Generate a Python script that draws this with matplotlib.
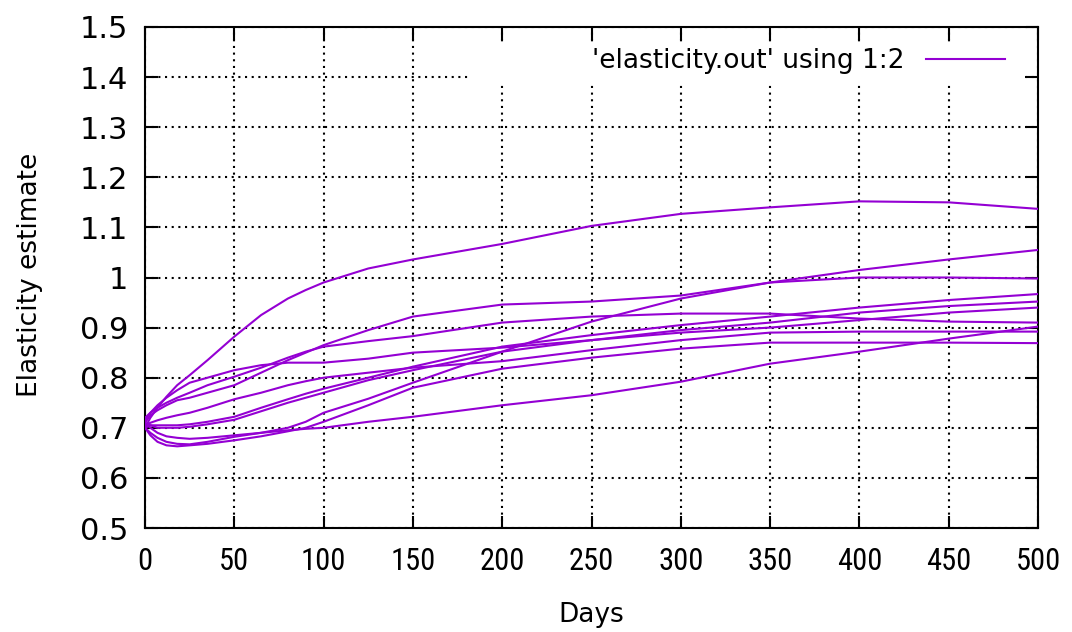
import matplotlib
matplotlib.use("Agg")
import matplotlib.pyplot as plt
from matplotlib.patches import Rectangle
from matplotlib import font_manager

days = [0, 3, 7, 12, 18, 25, 35, 50, 65, 80, 90, 100, 125, 150, 200, 250, 300, 350, 400, 450, 500]

run_a = [0.70, 0.72, 0.74, 0.762, 0.785, 0.805, 0.835, 0.882, 0.925, 0.958, 0.975, 0.99, 1.018, 1.036, 1.067, 1.103, 1.127, 1.14, 1.152, 1.15, 1.137]
run_b = [0.71, 0.70, 0.69, 0.683, 0.68, 0.678, 0.68, 0.685, 0.69, 0.70, 0.712, 0.73, 0.758, 0.79, 0.852, 0.912, 0.958, 0.99, 1.015, 1.036, 1.055]
run_c = [0.71, 0.725, 0.735, 0.745, 0.755, 0.76, 0.77, 0.785, 0.81, 0.835, 0.85, 0.865, 0.895, 0.922, 0.946, 0.952, 0.964, 0.99, 1.0, 1.0, 0.998]
run_d = [0.72, 0.73, 0.74, 0.75, 0.76, 0.77, 0.785, 0.802, 0.82, 0.84, 0.852, 0.862, 0.873, 0.883, 0.91, 0.922, 0.928, 0.928, 0.918, 0.912, 0.91]
run_e = [0.715, 0.73, 0.745, 0.76, 0.775, 0.79, 0.80, 0.815, 0.825, 0.83, 0.83, 0.83, 0.838, 0.85, 0.86, 0.875, 0.89, 0.90, 0.915, 0.93, 0.94]
run_f = [0.705, 0.71, 0.715, 0.72, 0.725, 0.73, 0.74, 0.757, 0.77, 0.785, 0.793, 0.80, 0.81, 0.82, 0.833, 0.855, 0.875, 0.89, 0.892, 0.892, 0.892]
run_g = [0.70, 0.705, 0.705, 0.705, 0.705, 0.707, 0.712, 0.722, 0.74, 0.757, 0.768, 0.778, 0.80, 0.822, 0.862, 0.885, 0.905, 0.922, 0.94, 0.955, 0.967]
run_h = [0.71, 0.705, 0.70, 0.70, 0.70, 0.702, 0.707, 0.716, 0.733, 0.75, 0.76, 0.77, 0.795, 0.815, 0.852, 0.875, 0.895, 0.91, 0.93, 0.943, 0.952]
run_i = [0.70, 0.69, 0.68, 0.672, 0.668, 0.667, 0.672, 0.682, 0.69, 0.695, 0.698, 0.70, 0.712, 0.722, 0.745, 0.765, 0.792, 0.828, 0.852, 0.878, 0.902]
run_j = [0.70, 0.685, 0.672, 0.665, 0.663, 0.665, 0.668, 0.675, 0.683, 0.693, 0.70, 0.712, 0.745, 0.78, 0.818, 0.84, 0.858, 0.87, 0.87, 0.87, 0.869]

runs = [run_a, run_b, run_c, run_d, run_e, run_f, run_g, run_h, run_i, run_j]

x_ticks = [0, 50, 100, 150, 200, 250, 300, 350, 400, 450, 500]
y_ticks = [0.5, 0.6, 0.7, 0.8, 0.9, 1.0, 1.1, 1.2, 1.3, 1.4, 1.5]
y_tick_labels = ["0.5", "0.6", "0.7", "0.8", "0.9", "1", "1.1", "1.2", "1.3", "1.4", "1.5"]
legend_label = "'elasticity.out' using 1:2"

color = "#9400D3"

installed = {f.name for f in font_manager.fontManager.ttflist}
narrow = [n for n in ["Liberation Sans Narrow", "DejaVu Sans Condensed", "Roboto Condensed"] if n in installed]
narrow_family = narrow + ["DejaVu Sans"]

fig = plt.figure(figsize=(10.72, 6.32), dpi=100)
ax = fig.add_axes([145 / 1072, 1 - 528 / 632, (1038 - 145) / 1072, (528 - 27) / 632])

for i, r in enumerate(runs):
    ax.plot(days, r, color=color, lw=1.5, zorder=3,
            label=legend_label if i == 0 else None)

ax.set_xlim(0, 500)
ax.set_ylim(0.5, 1.5)
ax.set_xticks(x_ticks)
ax.set_yticks(y_ticks)
ax.set_yticklabels(y_tick_labels)
ax.set_axisbelow(True)
ax.grid(True, color="black", linestyle=(0, (1, 2.2)), linewidth=1.5)

ax.tick_params(axis="both", direction="in", length=9, width=1.5,
               top=True, right=True, colors="black")
ax.tick_params(axis="y", pad=12, labelsize=22)
ax.tick_params(axis="x", pad=14, labelsize=22)
for lab in ax.get_xticklabels():
    lab.set_family(narrow_family)
for s in ax.spines.values():
    s.set_linewidth(1.5)
    s.set_color("black")

fig.text(30 / 1072, 1 - 275 / 632, "Elasticity estimate", rotation=90,
         ha="center", va="center", fontsize=19)
fig.text(591 / 1072, 1 - 615 / 632, "Days", ha="center", va="center", fontsize=19)

# opaque key area (gnuplot style)
ax.add_patch(Rectangle(((470 - 145) / 893, (528 - 84) / 501),
                       (1025 - 470) / 893, (84 - 42) / 501,
                       transform=ax.transAxes, facecolor="white",
                       edgecolor="none", zorder=1))

ax.legend(loc="center right", bbox_to_anchor=((1005 - 145) / 893, (528 - 61) / 501),
          frameon=False, markerfirst=False, fontsize=19, handlelength=3.0,
          handletextpad=0.8, borderpad=0, borderaxespad=0)

fig.savefig("out.png", dpi=100)
